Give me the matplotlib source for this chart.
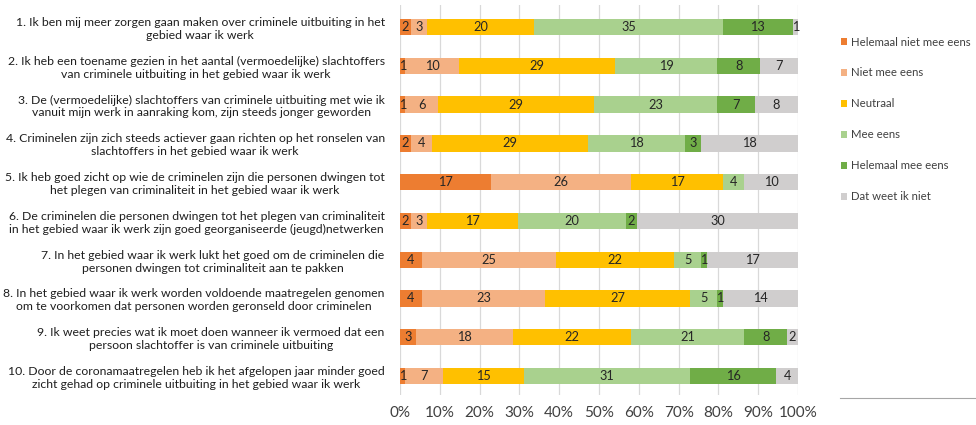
import numpy as np
import matplotlib.pyplot as plt
from matplotlib.patches import Patch
from matplotlib.lines import Line2D

plt.rcParams['font.family'] = ['Lato', 'DejaVu Sans']

stellingen = [
    "1. Ik ben mij meer zorgen gaan maken over criminele uitbuiting in het\ngebied waar ik werk",
    "2. Ik heb een toename gezien in het aantal (vermoedelijke) slachtoffers\nvan criminele uitbuiting in het gebied waar ik werk",
    "3. De (vermoedelijke) slachtoffers van criminele uitbuiting met wie ik\nvanuit mijn werk in aanraking kom, zijn steeds jonger geworden",
    "4. Criminelen zijn zich steeds actiever gaan richten op het ronselen van\nslachtoffers in het gebied waar ik werk",
    "5. Ik heb goed zicht op wie de criminelen zijn die personen dwingen tot\nhet plegen van criminaliteit in het gebied waar ik werk",
    "6. De criminelen die personen dwingen tot het plegen van criminaliteit\nin het gebied waar ik werk zijn goed georganiseerde (jeugd)netwerken",
    "7. In het gebied waar ik werk lukt het goed om de criminelen die\npersonen dwingen tot criminaliteit aan te pakken",
    "8. In het gebied waar ik werk worden voldoende maatregelen genomen\nom te voorkomen dat personen worden geronseld door criminelen",
    "9. Ik weet precies wat ik moet doen wanneer ik vermoed dat een\npersoon slachtoffer is van criminele uitbuiting",
    "10. Door de coronamaatregelen heb ik het afgelopen jaar minder goed\nzicht gehad op criminele uitbuiting in het gebied waar ik werk",
]

categorieen = ["Helemaal niet mee eens", "Niet mee eens", "Neutraal",
               "Mee eens", "Helemaal mee eens", "Dat weet ik niet"]
kleuren = ["#ED7D31", "#F4B183", "#FFC000", "#A9D18E", "#70AD47", "#D0CECE"]

helemaal_niet = [2, 1, 1, 2, 17, 2, 4, 4, 3, 1]
niet_mee_eens = [3, 10, 6, 4, 26, 3, 25, 23, 18, 7]
neutraal = [20, 29, 29, 29, 17, 17, 22, 27, 22, 15]
mee_eens = [35, 19, 23, 18, 4, 20, 5, 5, 21, 31]
helemaal_mee = [13, 8, 7, 3, 0, 2, 1, 1, 8, 16]
weet_niet = [1, 7, 8, 18, 10, 30, 17, 14, 2, 4]

data = np.array([helemaal_niet, niet_mee_eens, neutraal, mee_eens,
                 helemaal_mee, weet_niet], dtype=float)
totaal = data.sum(axis=0)
pct = data / totaal * 100

fig = plt.figure(figsize=(9.76, 4.25), dpi=100)
ax = fig.add_axes([400 / 976, 1 - 395 / 425, 398 / 976, 390 / 425])

y = np.arange(len(stellingen))
links = np.zeros(len(stellingen))
for i in range(len(categorieen)):
    ax.barh(y, pct[i], left=links, height=0.42, color=kleuren[i],
            label=categorieen[i], zorder=3)
    for j in range(len(stellingen)):
        if data[i, j] > 0:
            ax.text(links[j] + pct[i, j] / 2, y[j], f"{int(data[i, j])}",
                    ha='center', va='center', fontsize=9.2, color='#262626',
                    zorder=4)
    links += pct[i]

ax.set_xlim(0, 100)
ax.set_ylim(9.49, -0.57)
ax.set_xticks(np.arange(0, 101, 10))
ax.set_xticklabels([f"{v}%" for v in range(0, 101, 10)], fontsize=11,
                   color='#404040')
ax.set_yticks(y)
ax.set_yticklabels(stellingen, fontsize=8.8, color='#1F1F1F',
                   multialignment='center')
ax.tick_params(axis='both', length=0)
ax.tick_params(axis='y', pad=11)
ax.tick_params(axis='x', pad=8)
ax.grid(axis='x', color='#D9D9D9', linewidth=0.9, zorder=0)
for s in ax.spines.values():
    s.set_visible(False)

handles = [Patch(facecolor=k, edgecolor='none') for k in kleuren]
fig.legend(handles, categorieen, loc='upper left',
           bbox_to_anchor=(836 / 976, 1 - 32 / 425), frameon=False,
           fontsize=8.2, labelcolor='#404040', handlelength=0.6,
           handleheight=0.6, handletextpad=0.3, labelspacing=1.75,
           borderaxespad=0)

fig.add_artist(Line2D([840 / 976, 1.0], [1 - 398 / 425] * 2,
                      color='#A6A6A6', linewidth=0.8))

fig.savefig('out.png', dpi=100)
